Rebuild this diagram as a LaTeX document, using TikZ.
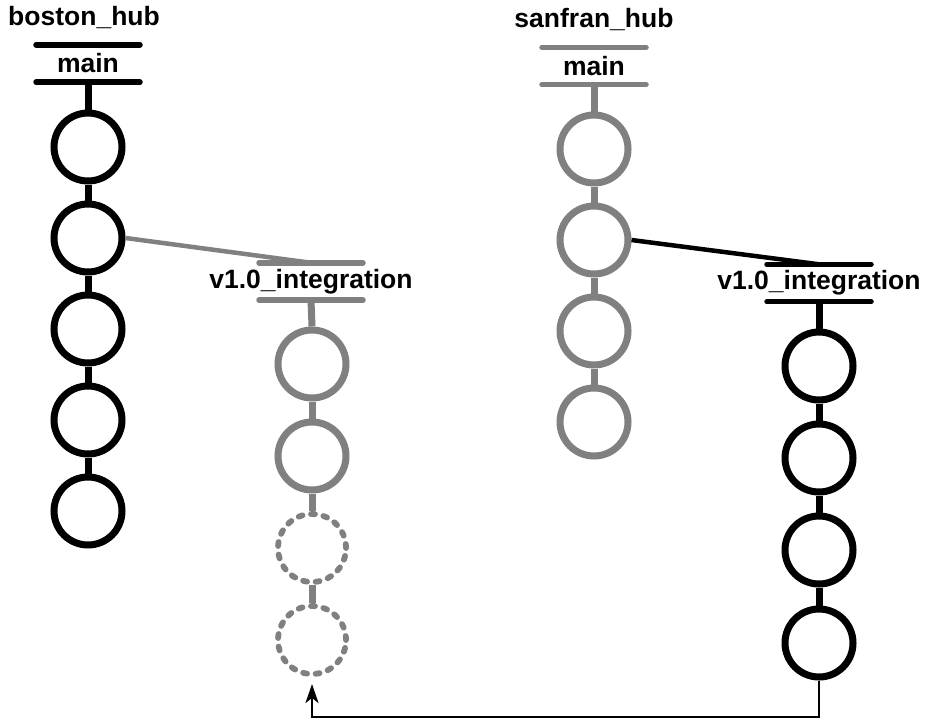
\documentclass[tikz,border=0pt]{standalone}
\usepackage{fontspec}
\setmainfont{Liberation Sans}
\usetikzlibrary{arrows.meta}
\definecolor{brgray}{HTML}{808080}
\tikzset{
  commit/.style={circle, draw, line width=7pt, minimum size=68pt, inner sep=0pt},
  ghost/.style={circle, draw=brgray, line width=5.8pt, minimum size=68pt, inner sep=0pt, dash pattern=on 4pt off 8.6pt, line cap=round},
  stub/.style={line width=7pt},
  blabel/.style={font=\bfseries\fontsize{26.5}{26.5}\selectfont, minimum height=37pt, inner sep=0pt, text=black},
  bar/.style={line width=5.5pt, line cap=round},
  hub/.style={font=\bfseries\fontsize{26.5}{26.5}\selectfont, inner sep=0pt},
  fork/.style={line width=4.5pt},
  mergeline/.style={line width=2.2pt, arrows={-Stealth[length=19pt,width=13pt,inset=5pt]}}
}
\newcommand{\branchbars}[2][black]{%
  \draw[bar,#1] ([xshift=-52pt]#2.north) -- ([xshift=52pt]#2.north);
  \draw[bar,#1] ([xshift=-52pt]#2.south) -- ([xshift=52pt]#2.south);
}
\begin{document}
\begin{tikzpicture}[x=1pt,y=-1pt]
\useasboundingbox (0,0) rectangle (926,720);
% boston_hub
\node[hub] (bh) at (84,18) {boston\_hub};
\node[blabel] (bm) at (88,63.5) {main};
\branchbars{bm}
\foreach \i/\y in {1/147,2/238,3/329,4/420,5/511}{
  \node[commit] (b\i) at (88,\y) {};
}
\draw[stub] (bm.south) -- (b1.north);
\draw[stub] (b1.south) -- (b2.north);
\draw[stub] (b2.south) -- (b3.north);
\draw[stub] (b3.south) -- (b4.north);
\draw[stub] (b4.south) -- (b5.north);
% boston v1.0
\node[blabel] (bv) at (311,281.5) {v1.0\_integration};
\branchbars[brgray]{bv}
\node[commit,draw=brgray] (v1) at (312,364) {};
\node[commit,draw=brgray] (v2) at (312,456) {};
\node[ghost] (v3) at (312,548) {};
\node[ghost] (v4) at (312,640) {};
\draw[stub,brgray] (bv.south) -- (v1.north);
\draw[stub,brgray] (v1.south) -- (v2.north);
\draw[stub,brgray] (v2.south) -- (v3.north);
\draw[stub,brgray] (v3.south) -- (v4.north);
\draw[fork,brgray] (b2.east) -- (bv.north);
% sanfran_hub
\node[hub] (sh) at (594,20) {sanfran\_hub};
\node[blabel] (sm) at (594,66) {main};
\branchbars[brgray]{sm}
\foreach \i/\y in {1/149,2/240,3/331,4/422}{
  \node[commit,draw=brgray] (s\i) at (594,\y) {};
}
\draw[stub,brgray] (sm.south) -- (s1.north);
\draw[stub,brgray] (s1.south) -- (s2.north);
\draw[stub,brgray] (s2.south) -- (s3.north);
\draw[stub,brgray] (s3.south) -- (s4.north);
% sanfran v1.0
\node[blabel] (sv) at (819,283) {v1.0\_integration};
\branchbars{sv}
\foreach \i/\y in {1/366,2/458,3/550,4/643}{
  \node[commit] (w\i) at (819,\y) {};
}
\draw[stub] (sv.south) -- (w1.north);
\draw[stub] (w1.south) -- (w2.north);
\draw[stub] (w2.south) -- (w3.north);
\draw[stub] (w3.south) -- (w4.north);
\draw[fork] (s2.east) -- (sv.north);
% merge arrow
\coordinate (tip) at (312,684);
\draw[mergeline] (w4.south) -- (819,717) -- (312,717) -- (tip);
\end{tikzpicture}
\end{document}
